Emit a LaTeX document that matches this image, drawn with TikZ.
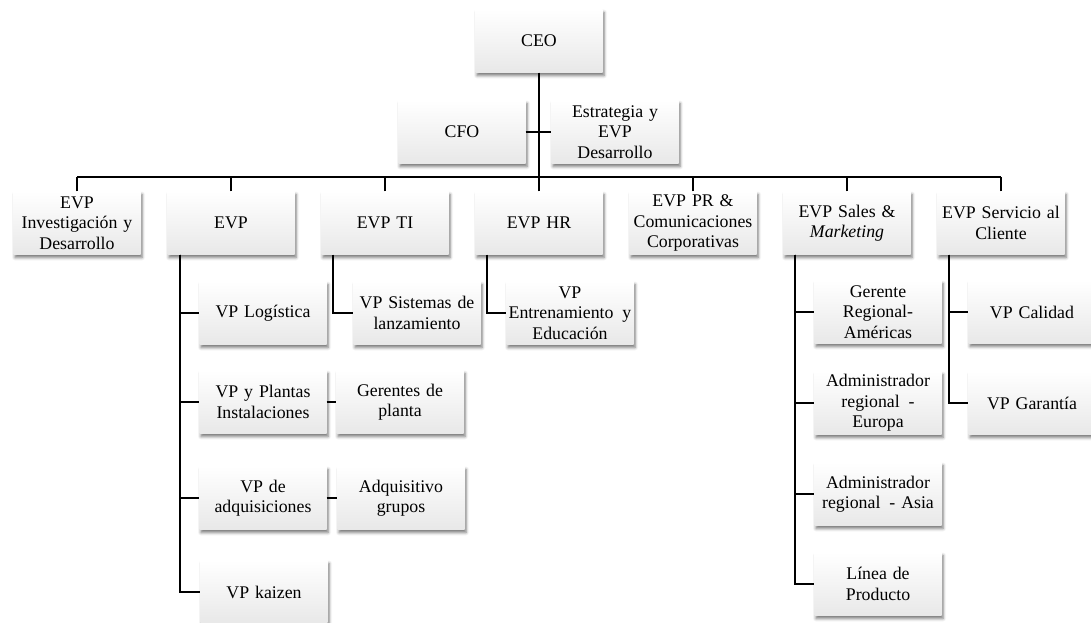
\documentclass[tikz,border=0pt]{standalone}
\usepackage{fontspec}
\setmainfont{Liberation Serif}
\usepackage{tikz}
\usetikzlibrary{shadows.blur}

\begin{document}
\begin{tikzpicture}[x=1pt,y=-1pt,
    box/.style={minimum width=127pt, minimum height=63pt, text width=126pt,
        inner sep=0.5pt, align=center, top color=white, bottom color=gray!18,
        blur shadow={shadow xshift=1.5pt, shadow yshift=-3pt, shadow blur radius=3pt, shadow opacity=55},
        font=\fontsize{17.8}{20.5}\selectfont},
    link/.style={line width=1.7pt, black}]
\useasboundingbox (0,0) rectangle (1091,623);

    % Top
\node[box] (ceo) at (539,41) {CEO};
\node[box] (cfo) at (462,132) {CFO};
\node[box] (est) at (615,132) {Estrategia y\\EVP\\Desarrollo};

\coordinate (busL) at (77,177);
\coordinate (busR) at (1001,177);


    % EVP row
\node[box] (inv) at (77,223) {EVP\\Investigación y\\Desarrollo};
\node[box] (evp) at (231,223) {EVP};
\node[box] (ti) at (385,223) {EVP TI};
\node[box] (hr) at (539,223) {EVP HR};
\node[box] (pr) at (693,223) {EVP PR \&\\Comunicaciones\\Corporativas};
\node[box] (sal) at (847,223) {EVP Sales \&\\\textit{Marketing}};
\node[box] (ser) at (1001,223) {EVP Servicio al\\Cliente};


    % VP level
\node[box] (log) at (263,313) {VP Logística};
\node[box] (pla) at (263,402) {VP y Plantas\\Instalaciones};
\node[box] (adq) at (263,498) {VP de\\adquisiciones};
\node[box] (kai) at (264,592) {VP kaizen};

\node[box] (ger) at (400,402) {Gerentes de\\planta};
\node[box] (grp) at (401,498) {Adquisitivo\\grupos};

\node[box] (sis) at (417,313) {VP Sistemas de\\lanzamiento};
\node[box] (ent) at (570,313) {VP\\Entrenamiento\hspace{3pt} y\\Educación};

\node[box] (ame) at (878,312) {Gerente\\Regional-\\Américas};
\node[box] (eur) at (878,403) {Administrador\\regional\hspace{3pt} -\\Europa};
\node[box] (asi) at (878,494) {Administrador\\regional\hspace{3pt} - Asia};
\node[box] (lin) at (878,584) {Línea de\\Producto};

\node[box] (cal) at (1032,312) {VP Calidad};
\node[box] (gar) at (1032,403) {VP Garantía};


    % connectors
\draw[link] (ceo.south) -- (ceo.south |- busL);
\draw[link] (cfo.east) -- (est.west);
\draw[link] (busL) -- (busR);

\foreach \n in {inv,evp,ti,hr,pr,sal,ser}
    \draw[link] (\n.north) -- (\n.north |- busL);

\foreach \n in {log,pla,adq,kai}
    \draw[link] ([xshift=13pt]evp.south west) |- (\n.west);
\draw[link] (pla.east) -- (ger.west);
\draw[link] (adq.east) -- (grp.west);

\draw[link] ([xshift=12pt]ti.south west) |- (sis.west);
\draw[link] ([xshift=12pt]hr.south west) |- (ent.west);

\foreach \n in {ame,eur,asi,lin}
    \draw[link] ([xshift=12pt]sal.south west) |- (\n.west);
\foreach \n in {cal,gar}
    \draw[link] ([xshift=12pt]ser.south west) |- (\n.west);

\end{tikzpicture}
\end{document}
